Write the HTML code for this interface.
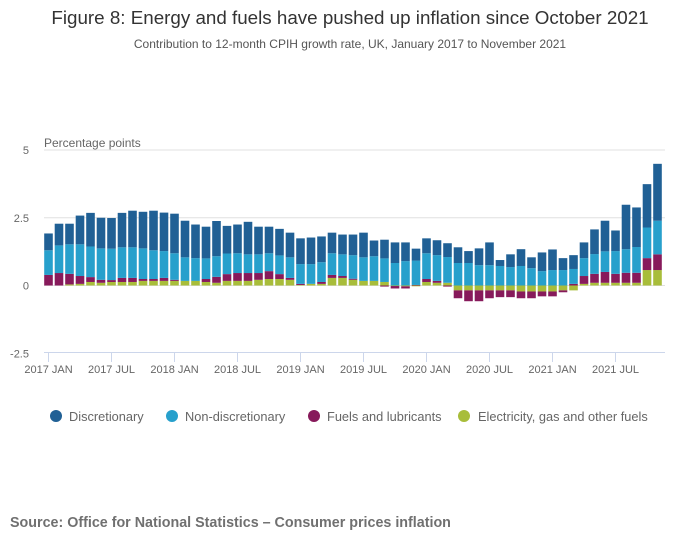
<!DOCTYPE html>
<html><head><meta charset="utf-8"><style>
body{margin:0;background:#fff;width:700px;height:549px;overflow:hidden;font-family:"Liberation Sans",sans-serif}
svg text{font-family:"Liberation Sans",sans-serif}
</style></head><body>
<svg id="chart" width="700" height="549">
<text x="350" y="24" text-anchor="middle" font-size="18.8" fill="#333">Figure 8: Energy and fuels have pushed up inflation since October 2021</text>
<text x="350" y="48" text-anchor="middle" font-size="12" fill="#555">Contribution to 12-month CPIH growth rate, UK, January 2017 to November 2021</text>
<text x="44" y="147" font-size="12" fill="#666">Percentage points</text>
<g id="grid"></g><g id="bars"></g><g id="xaxis"></g>
<g>
<g><circle cx="56" cy="416" r="6" fill="#206095"/><text x="69" y="421" font-size="12.8" fill="#666">Discretionary</text></g>
<g><circle cx="172" cy="416" r="6" fill="#27a0cc"/><text x="185" y="421" font-size="12.8" fill="#666">Non-discretionary</text></g>
<g><circle cx="314" cy="416" r="6" fill="#871a5b"/><text x="327" y="421" font-size="12.8" fill="#666">Fuels and lubricants</text></g>
<g><circle cx="464" cy="416" r="6" fill="#a8bd3a"/><text x="478" y="421" font-size="12.8" fill="#666">Electricity, gas and other fuels</text></g>
</g>
<text x="10" y="527" font-size="14.3" font-weight="bold" fill="#707070">Source: Office for National Statistics – Consumer prices inflation</text>
</svg>
<script>
const elec=[0,0,0.04,0.06,0.13,0.10,0.13,0.13,0.13,0.17,0.17,0.17,0.17,0.17,0.17,0.13,0.10,0.17,0.17,0.17,0.21,0.24,0.24,0.21,0.02,0.06,0.06,0.28,0.28,0.21,0.17,0.17,0.13,-0.02,-0.03,-0.03,0.13,0.10,0.10,-0.18,-0.18,-0.18,-0.18,-0.18,-0.18,-0.22,-0.22,-0.22,-0.22,-0.18,-0.18,0.06,0.10,0.10,0.10,0.10,0.10,0.57,0.57];
const fuels=[0.39,0.46,0.39,0.29,0.18,0.11,0.07,0.15,0.15,0.07,0.07,0.11,0.04,0,0,0.11,0.22,0.25,0.29,0.29,0.25,0.29,0.18,0.07,0.04,0,0.07,0.11,0.07,0.04,0,0,-0.04,-0.09,-0.08,0.02,0.11,0.07,-0.04,-0.29,-0.40,-0.40,-0.29,-0.25,-0.25,-0.25,-0.25,-0.18,-0.18,-0.07,0.06,0.29,0.33,0.40,0.33,0.37,0.37,0.44,0.58];
const nondisc=[0.91,1.02,1.09,1.17,1.13,1.16,1.16,1.13,1.13,1.13,1.06,0.99,0.98,0.87,0.84,0.76,0.76,0.76,0.73,0.69,0.69,0.66,0.69,0.76,0.73,0.73,0.73,0.80,0.80,0.87,0.87,0.91,0.87,0.83,0.90,0.90,0.95,0.95,0.95,0.83,0.83,0.75,0.75,0.72,0.68,0.72,0.64,0.53,0.57,0.57,0.55,0.66,0.73,0.76,0.84,0.87,0.95,1.13,1.24];
const disc=[0.62,0.80,0.76,1.06,1.24,1.13,1.13,1.27,1.35,1.35,1.46,1.42,1.46,1.35,1.24,1.17,1.30,1.02,1.06,1.20,1.02,0.98,0.98,0.91,0.95,0.98,0.95,0.76,0.73,0.76,0.91,0.58,0.69,0.76,0.69,0.44,0.55,0.55,0.51,0.58,0.44,0.62,0.84,0.22,0.47,0.62,0.40,0.69,0.76,0.44,0.51,0.58,0.91,1.13,0.76,1.64,1.46,1.60,2.10];
const yTicks=[5,2.5,0,-2.5];
const yTickLabels=["5","2.5","0","-2.5"];
const xTickIdx=[0,6,12,18,24,30,36,42,48,54];
const xTickLabels=["2017 JAN","2017 JUL","2018 JAN","2018 JUL","2019 JAN","2019 JUL","2020 JAN","2020 JUL","2021 JAN","2021 JUL"];
const NS="http://www.w3.org/2000/svg";
const x=i=>48.5+i*10.5;
const y=v=>285.5-v*27.1;
function mk(tag,attrs,parent){const e=document.createElementNS(NS,tag);for(const k in attrs)e.setAttribute(k,attrs[k]);parent.appendChild(e);return e;}
const grid=document.getElementById('grid');
yTicks.forEach((t,i)=>{
  if(t!==-2.5){const l=mk('line',{x1:44,x2:665,y1:y(t),y2:y(t),stroke:'#e0e0e0','stroke-width':1},grid);
  
  }
  const tx=mk('text',{x:29,y:y(t)+4,'text-anchor':'end','font-size':11,fill:'#666'},grid);
  tx.textContent=yTickLabels[i];
  
  
});
const bars=document.getElementById('bars');
const series=[[elec,'#a8bd3a','electricity'],[fuels,'#871a5b','fuels'],[nondisc,'#27a0cc','non-discretionary'],[disc,'#206095','discretionary']];
for(let i=0;i<disc.length;i++){
  let pos=0,neg=0;
  series.forEach(([arr,col,nm])=>{
    const v=arr[i];if(v===0)return;
    let y0,y1;
    if(v>0){y0=pos;y1=pos+v;pos=y1;}else{y0=neg;y1=neg+v;neg=y1;}
    const top=y(Math.max(y0,y1)),bot=y(Math.min(y0,y1));
    const r=mk('rect',{x:x(i)-4.3,y:top,width:8.6,height:Math.max(bot-top,0.5),fill:col},bars);
    
    
  });
}
const xa=document.getElementById('xaxis');
const ax=mk('line',{x1:44,x2:665,y1:352.5,y2:352.5,stroke:'#ccd6eb','stroke-width':1},xa);


xTickIdx.forEach((idx,k)=>{
  const tk=mk('line',{x1:x(idx),x2:x(idx),y1:352.5,y2:362,stroke:'#ccd6eb','stroke-width':1},xa);
  
  
  const t=mk('text',{x:x(idx),y:373,'text-anchor':'middle','font-size':11,fill:'#666'},xa);
  t.textContent=xTickLabels[k];
  
  
});
</script>
</body></html>
